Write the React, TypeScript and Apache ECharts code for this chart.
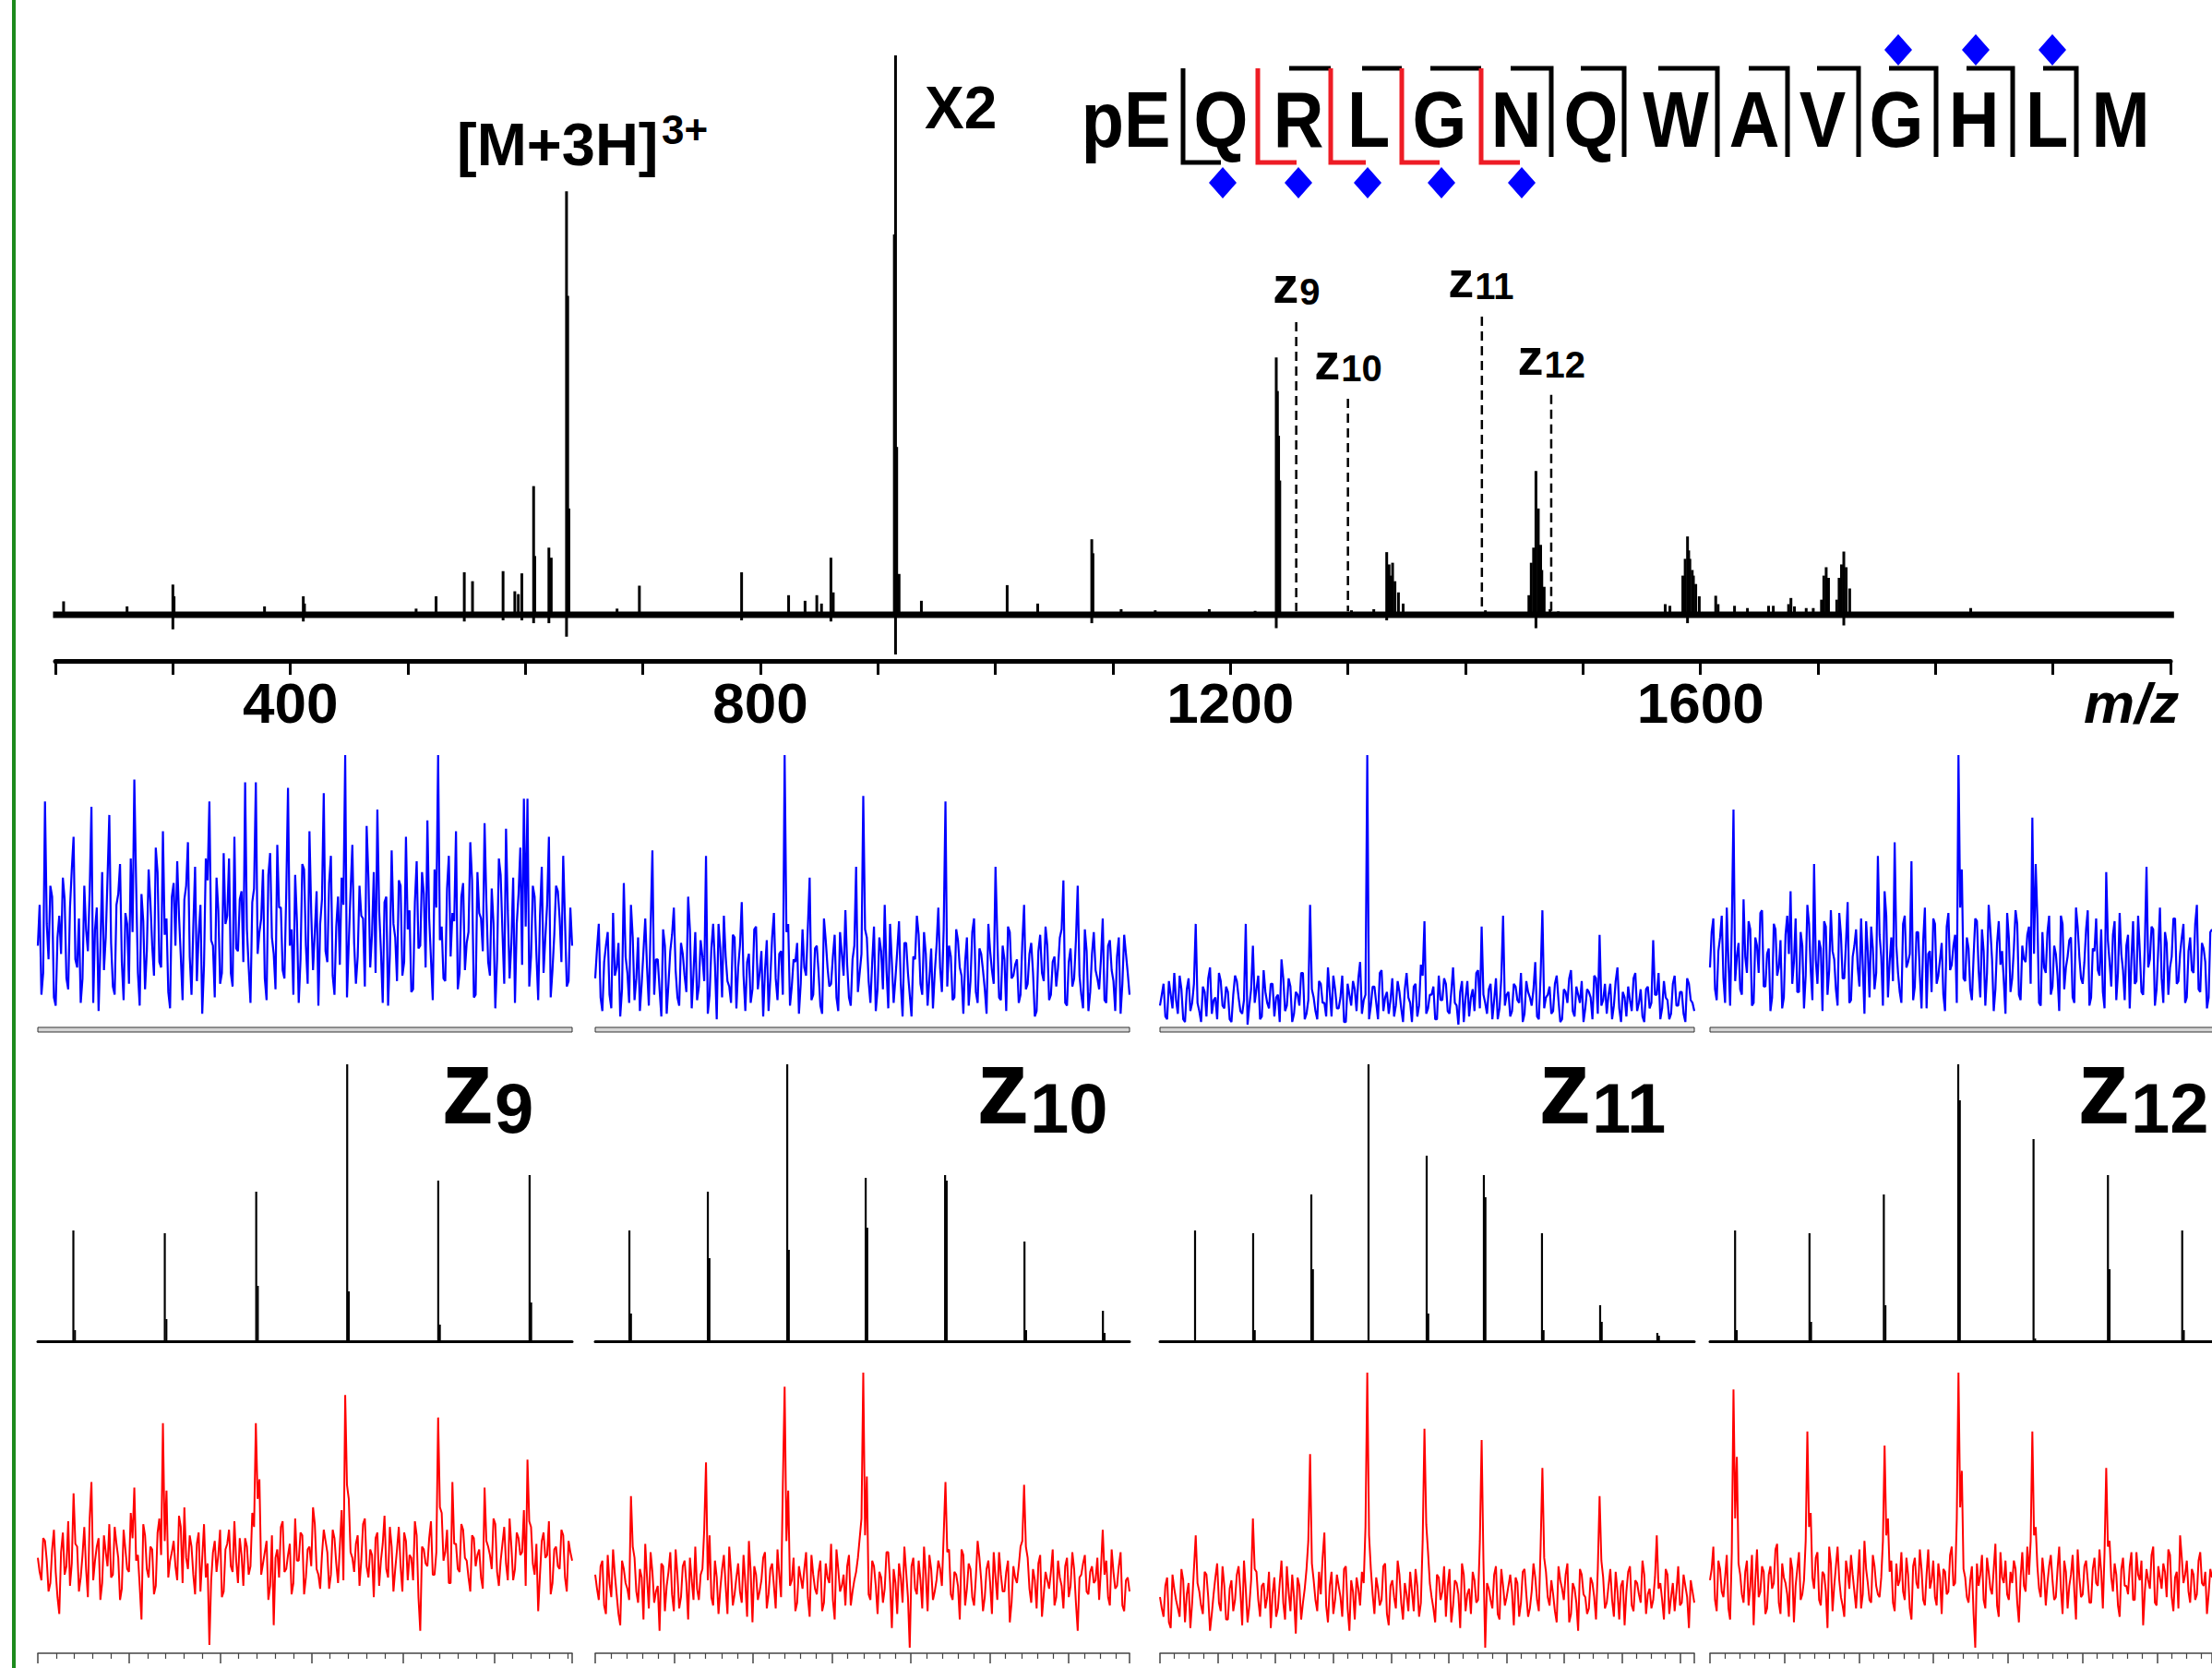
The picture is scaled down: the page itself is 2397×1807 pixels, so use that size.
import React, { useEffect, useRef } from "react";
import * as echarts from "echarts";

// ================= DATA =================
// Top MS/MS spectrum: stick peaks (m/z, relative intensity, dip below baseline)
const topMz = [207, 261, 300, 301, 378, 411, 412, 507, 524, 548, 555, 581, 591, 594, 597, 607, 608, 620, 622, 635, 636, 637, 678, 697, 784, 824, 838, 848, 852, 860, 862, 914, 915, 916, 918, 937, 1010, 1036, 1082, 1083, 1107, 1136, 1182, 1221, 1239, 1240, 1241, 1242, 1303, 1322, 1333, 1334, 1335, 1336, 1338, 1340, 1343, 1347, 1417, 1431, 1454, 1456, 1458, 1460, 1462, 1464, 1465, 1467, 1472, 1479, 1570, 1574, 1585, 1587, 1589, 1590, 1591, 1593, 1594, 1596, 1599, 1613, 1615, 1629, 1640, 1658, 1662, 1675, 1677, 1680, 1690, 1696, 1703, 1705, 1707, 1709, 1716, 1718, 1720, 1722, 1724, 1727, 1830];
const topInt = [2.4, 1.5, 5.4, 3.3, 1.5, 3.3, 2, 1.1, 3.3, 7.6, 6, 7.8, 4.2, 3.7, 7.4, 23, 10.5, 12, 10.2, 75.7, 57, 19, 1.1, 5.2, 7.6, 3.5, 2.5, 3.5, 2, 10.2, 4, 68, 100, 30, 7.3, 2.5, 5.3, 2, 13.5, 11, 1, 0.8, 1, 0.7, 46, 40, 32, 24, 0.8, 1, 11.2, 8, 9, 7, 9.3, 6, 4, 2, 0.8, 0.5, 3.5, 9.3, 12, 25.7, 19, 12.5, 8, 5, 1, 0.6, 1.9, 1.6, 7, 10, 14, 11.5, 10, 8, 7, 5.5, 3.3, 3.4, 1.9, 1.6, 1.2, 1.6, 1.6, 1.9, 3, 1.5, 1.2, 1.2, 2.7, 7, 8.5, 6.6, 2.7, 6.6, 9, 11.3, 8.5, 4.7, 1.2];
const topDip = [0, 0, -2.6, 0, 0, -1.2, 0, 0, 0, -1.2, 0, -1, 0, 0, -1, -1.5, 0, -1.5, 0, -3.9, 0, 0, 0, 0, -1, 0, 0, 0, 0, -1.2, 0, 0, -7.1, 0, 0, 0, 0, 0, -1.5, 0, 0, 0, 0, 0, -2.4, 0, 0, 0, 0, 0, -1, 0, 0, 0, 0, 0, 0, 0, 0, 0, 0, 0, 0, -2.4, 0, 0, 0, 0, 0, 0, 0, 0, 0, 0, -1.5, 0, 0, 0, 0, 0, 0, 0, 0, 0, 0, 0, 0, 0, 0, 0, 0, 0, 0, 0, 0, 0, 0, 0, 0, -1.9, 0, 0, 0];
const topBaseline = [198, 2003];
const topTicks = [400, 800, 1200, 1600];

// z-ion markers in the top spectrum
const zIonMz = [1256, 1300, 1414, 1473];
const zIonTop = [52.3, 38.6, 53.3, 39.3];
const zIonLabel = ["9", "10", "11", "12"];

// Peptide sequence and fragment map
const residues = ["pE", "Q", "R", "L", "G", "N", "Q", "W", "A", "V", "G", "H", "L", "M"];
const cleavageType = ["c", "c", "cz", "cz", "cz", "z", "z", "z", "z", "z", "z", "z", "z"];
const cIonRed = [false, true, true, true, true];
const zDiamond = [false, false, false, false, false, false, false, false, false, false, true, true, true];

// Isotope panels (x in isotope-spacing units)
const panelLabels = ["9", "10", "11", "12"];
const panelSpan = [5.85, 6.77, 9.25, 6.74];
const z9Pos = [0.389, 1.39, 2.391, 3.387, 4.384, 5.384];
const z9Int = [40, 39, 54, 100, 58, 60];
const z9Sh = [4, 8, 20, 18, 6, 14];
const z10Pos = [0.433, 1.427, 2.433, 3.427, 4.433, 5.439, 6.433];
const z10Int = [40, 54, 100, 59, 60, 36, 11];
const z10Sh = [10, 30, 33, 41, 58, 4, 3];
const z11Pos = [0.607, 1.613, 2.62, 3.61, 4.617, 5.607, 6.613, 7.62, 8.61];
const z11Int = [40, 39, 53, 100, 67, 60, 39, 13, 3];
const z11Sh = [0, 4, 26, 0, 10, 52, 4, 7, 2];
const z12Pos = [0.337, 1.336, 2.334, 3.333, 4.344, 5.343, 6.34];
const z12Int = [40, 39, 53, 100, 73, 60, 40];
const z12Sh = [4, 7, 13, 87, 1, 26, 4];

// Blue traces (conventional spectra): even samples (a) and odd samples (b)
const blueZ9 = [30, 12, 83, 25, 48, 8, 41, 55, 18, 44, 70, 22, 9, 52, 28, 81, 36, 6, 57, 33, 78, 15, 45, 60, 10, 38, 62, 91, 20, 49, 14, 58, 30, 66, 24, 72, 40, 7, 53, 61, 26, 47, 68, 12, 59, 34, 5, 62, 83, 30, 55, 16, 64, 41, 20, 70, 28, 50, 90, 22, 46, 90, 35, 58, 10, 64, 27, 67, 44, 18, 88, 36, 56, 9, 60, 30, 72, 21, 50, 38, 86, 24, 63, 12, 48, 55, 100, 31, 67, 16, 52, 40, 74, 22, 57, 80, 28, 46, 8, 65, 33, 54, 19, 70, 43, 14, 61, 30, 49, 76, 25, 58, 100, 37, 17, 63, 42, 72, 20, 53, 31, 68, 11, 57, 40, 75, 24, 51, 7, 62, 35, 73, 18, 55, 38, 66, 84, 84, 26, 48, 10, 59, 33, 70, 21, 52, 40, 63, 15, 44];
const blueZ9b = [45, 20, 38, 52, 11, 33, 27, 47, 14, 58, 25, 40, 18, 36, 50, 9, 44, 29, 21, 55, 31, 12, 49, 24, 42, 16, 35, 53, 8, 39, 28, 46, 19, 57, 22, 34, 13, 48, 30, 41, 10, 52, 26, 37, 17, 45, 23, 54, 32, 11, 43, 20, 38, 62, 15, 29, 47, 24, 36, 9, 51, 27, 40, 18, 56, 33, 14, 44, 21, 49, 30, 12, 39, 25, 58, 16, 42, 35, 8, 47, 28, 53, 19, 37, 23, 45, 11, 50, 31, 26, 41, 15, 55, 34, 20, 43, 9, 48, 27, 38, 17, 52, 24, 36, 13, 46, 29, 57, 22, 40, 10, 44, 32, 18, 51, 26, 39, 14, 48, 21, 35, 54, 12, 42, 28, 46, 19, 38, 25, 56, 16, 43, 31, 9, 49, 23, 37, 15, 52, 27, 41, 20, 45, 11, 34, 50, 24, 39, 17, 30];
const blueZ10 = [18, 38, 6, 30, 12, 42, 22, 4, 53, 20, 45, 10, 33, 16, 40, 8, 65, 25, 14, 36, 5, 28, 44, 11, 31, 19, 48, 7, 35, 15, 26, 63, 12, 38, 3, 29, 41, 17, 9, 33, 22, 46, 6, 27, 14, 37, 20, 4, 32, 18, 42, 10, 28, 100, 38, 15, 24, 5, 36, 19, 55, 12, 30, 8, 40, 22, 16, 34, 6, 27, 43, 11, 25, 59, 20, 85, 33, 9, 37, 14, 28, 45, 7, 24, 18, 39, 4, 31, 12, 26, 41, 16, 35, 8, 29, 20, 44, 13, 83, 30, 10, 36, 22, 5, 33, 17, 40, 9, 27, 14, 38, 21, 59, 11, 30, 6, 35, 19, 25, 12, 45, 16, 31, 4, 28, 20, 37, 10, 24, 15, 33, 54, 8, 29, 18, 52, 12, 36, 6, 27, 21, 14, 40, 9, 32, 17, 26, 5, 34, 20];
const blueZ10b = [29, 11, 24, 35, 7, 19, 31, 14, 26, 9, 33, 18, 6, 28, 22, 37, 12, 25, 4, 30, 16, 34, 21, 8, 27, 13, 36, 20, 10, 32, 17, 5, 29, 23, 38, 11, 26, 15, 34, 7, 30, 19, 24, 9, 36, 14, 28, 21, 6, 33, 18, 27, 12, 35, 8, 25, 31, 16, 22, 37, 10, 29, 20, 5, 32, 15, 26, 11, 35, 19, 23, 8, 30, 13, 27, 36, 17, 24, 6, 33, 14, 21, 38, 9, 28, 16, 31, 20, 4, 25, 34, 12, 27, 18, 7, 30, 22, 36, 15, 26, 11, 32, 19, 24, 8, 35, 13, 29, 21, 5, 28, 16, 33, 10, 25, 37, 18, 23, 9, 31, 14, 27, 20, 6, 34, 17, 30, 12, 26, 22, 36, 9, 24, 15, 32, 19, 7, 28, 13, 35, 18, 25, 10, 30, 21, 6, 33, 16, 27, 12];
const blueZ11 = [8, 16, 3, 12, 20, 5, 14, 2, 18, 9, 38, 6, 15, 4, 22, 10, 3, 17, 7, 13, 2, 19, 11, 5, 38, 8, 30, 14, 3, 21, 9, 16, 4, 12, 25, 6, 18, 2, 13, 8, 20, 5, 45, 11, 3, 16, 9, 22, 4, 14, 7, 19, 2, 12, 17, 6, 24, 10, 100, 8, 15, 3, 21, 11, 5, 18, 8, 13, 2, 20, 9, 15, 4, 23, 39, 7, 12, 3, 19, 10, 16, 5, 22, 8, 13, 2, 17, 11, 6, 21, 37, 9, 14, 3, 18, 7, 41, 12, 4, 16, 10, 20, 5, 13, 8, 24, 3, 43, 11, 15, 6, 19, 2, 14, 9, 21, 4, 12, 17, 7, 13, 3, 18, 34, 10, 5, 16, 8, 22, 2, 11, 15, 6, 20, 9, 4, 14, 7, 32, 12, 3, 17, 10, 5, 19, 8, 13, 2, 16, 9];
const blueZ11b = [12, 4, 17, 7, 10, 19, 3, 14, 6, 16, 9, 2, 13, 18, 5, 11, 20, 8, 15, 3, 12, 17, 6, 10, 1, 14, 9, 19, 4, 13, 7, 16, 11, 2, 18, 8, 15, 5, 12, 20, 3, 10, 14, 6, 17, 9, 4, 13, 19, 7, 11, 2, 16, 8, 14, 18, 5, 12, 3, 15, 9, 20, 6, 13, 10, 4, 17, 7, 14, 11, 2, 16, 8, 19, 5, 12, 15, 3, 10, 18, 6, 13, 9, 1, 17, 11, 4, 14, 20, 7, 12, 5, 16, 10, 3, 18, 8, 13, 6, 15, 9, 2, 17, 11, 14, 4, 19, 7, 12, 5, 16, 10, 3, 13, 18, 6, 15, 9, 2, 14, 11, 19, 5, 8, 16, 12, 3, 17, 7, 13, 4, 10, 18, 6, 14, 2, 15, 9, 12, 20, 7, 11, 3, 16, 8, 13, 5, 18, 10, 6];
const blueZ12 = [22, 40, 10, 33, 18, 44, 8, 80, 26, 14, 47, 20, 36, 9, 30, 42, 15, 27, 6, 38, 19, 32, 11, 41, 50, 24, 13, 35, 7, 45, 21, 60, 16, 29, 39, 12, 43, 25, 8, 34, 18, 46, 10, 30, 22, 40, 5, 28, 37, 14, 63, 26, 50, 11, 33, 68, 20, 9, 41, 24, 61, 15, 35, 7, 44, 27, 13, 38, 19, 31, 6, 42, 23, 34, 100, 58, 17, 29, 10, 40, 21, 36, 8, 45, 25, 14, 39, 28, 5, 33, 18, 43, 12, 30, 24, 37, 77, 60, 9, 35, 20, 41, 15, 27, 6, 38, 22, 32, 11, 44, 26, 16, 36, 8, 29, 40, 19, 13, 57, 24, 34, 10, 42, 21, 30, 7, 39, 17, 28, 12, 59, 25, 36, 14, 44, 9, 31, 22, 40, 16, 27, 38, 11, 33, 20, 45, 13, 29, 7, 35];
const blueZ12b = [35, 14, 28, 41, 9, 24, 37, 17, 31, 12, 26, 39, 8, 33, 20, 43, 15, 29, 11, 36, 22, 7, 34, 27, 16, 40, 13, 30, 19, 38, 10, 25, 32, 6, 37, 21, 28, 14, 42, 18, 31, 9, 26, 36, 15, 23, 39, 11, 29, 20, 34, 8, 41, 24, 17, 30, 13, 38, 22, 27, 10, 35, 19, 32, 7, 28, 40, 16, 25, 12, 37, 21, 30, 9, 44, 18, 33, 14, 26, 39, 11, 28, 20, 36, 6, 31, 23, 17, 42, 13, 29, 38, 10, 25, 34, 16, 27, 40, 8, 22, 35, 12, 30, 19, 41, 14, 26, 33, 9, 37, 18, 24, 43, 11, 28, 21, 36, 7, 32, 15, 39, 20, 27, 10, 34, 25, 16, 41, 13, 30, 22, 37, 8, 29, 18, 35, 12, 26, 40, 17, 33, 9, 28, 21, 38, 14, 31, 24, 11, 36];

// Red traces (enhanced spectra): even samples (a) and odd samples (b)
const redZ9 = [34, 26, 40, 22, 37, 29, 14, 43, 31, 24, 57, 38, 27, 45, 20, 61, 33, 41, 25, 36, 46, 28, 39, 19, 44, 30, 50, 59, 35, 12, 42, 27, 37, 24, 48, 82, 58, 33, 40, 26, 45, 52, 30, 38, 21, 43, 34, 27, 3, 36, 29, 44, 22, 39, 31, 47, 25, 35, 41, 28, 50, 82, 62, 32, 40, 24, 10, 37, 45, 29, 35, 21, 48, 33, 42, 27, 38, 52, 30, 23, 44, 36, 28, 41, 25, 51, 92, 55, 34, 39, 24, 46, 31, 37, 20, 43, 33, 49, 27, 38, 30, 45, 22, 40, 35, 26, 42, 8, 37, 31, 47, 28, 84, 50, 36, 25, 61, 39, 29, 44, 33, 22, 41, 35, 27, 59, 38, 30, 46, 24, 39, 32, 48, 26, 43, 35, 51, 69, 45, 28, 15, 40, 34, 47, 25, 38, 30, 42, 22, 36];
const redZ9b = [29, 41, 33, 25, 44, 20, 36, 28, 47, 32, 39, 22, 35, 30, 48, 26, 38, 19, 42, 31, 27, 45, 34, 23, 37, 29, 41, 33, 24, 46, 30, 38, 21, 43, 35, 40, 27, 36, 31, 49, 25, 34, 42, 28, 39, 22, 46, 32, 26, 40, 35, 20, 37, 44, 29, 33, 41, 24, 38, 31, 45, 55, 28, 36, 19, 42, 34, 27, 47, 30, 39, 25, 33, 43, 21, 37, 31, 46, 28, 35, 40, 23, 44, 32, 38, 26, 60, 36, 29, 42, 33, 48, 27, 35, 41, 24, 39, 30, 45, 22, 37, 31, 43, 26, 34, 47, 20, 38, 32, 41, 28, 36, 52, 33, 44, 25, 39, 30, 46, 34, 27, 42, 31, 37, 23, 40, 35, 48, 29, 33, 45, 26, 38, 30, 41, 36, 24, 47, 32, 39, 28, 43, 35, 21, 37, 31, 44, 27, 40, 33];
const redZ10 = [28, 19, 33, 14, 25, 37, 21, 10, 30, 23, 56, 34, 18, 27, 39, 16, 29, 22, 8, 31, 24, 36, 15, 28, 20, 33, 12, 26, 38, 19, 30, 68, 42, 17, 27, 23, 35, 14, 29, 21, 32, 18, 25, 40, 11, 28, 22, 34, 16, 30, 24, 37, 20, 95, 58, 26, 15, 31, 23, 36, 13, 28, 21, 33, 18, 27, 39, 12, 30, 24, 17, 35, 22, 29, 41, 100, 63, 19, 31, 14, 27, 23, 36, 9, 25, 32, 18, 29, 2, 34, 21, 26, 38, 15, 30, 22, 33, 24, 61, 37, 19, 28, 12, 35, 23, 30, 17, 40, 26, 20, 33, 14, 27, 36, 22, 29, 11, 31, 25, 38, 60, 34, 18, 26, 32, 13, 29, 23, 37, 20, 27, 16, 34, 24, 30, 8, 28, 35, 21, 31, 26, 19, 44, 33, 17, 29, 24, 36, 15, 27];
const redZ10b = [23, 31, 17, 35, 20, 28, 14, 33, 25, 19, 38, 22, 30, 12, 27, 36, 18, 24, 32, 15, 29, 21, 37, 16, 31, 25, 34, 19, 23, 28, 44, 26, 20, 33, 14, 30, 24, 38, 17, 27, 22, 35, 13, 29, 31, 19, 26, 36, 21, 32, 16, 28, 60, 40, 24, 34, 18, 27, 30, 20, 35, 23, 29, 15, 32, 25, 19, 37, 22, 28, 31, 17, 26, 34, 48, 42, 21, 33, 24, 29, 18, 36, 25, 30, 14, 27, 38, 20, 31, 23, 33, 16, 28, 35, 19, 26, 30, 42, 36, 21, 29, 24, 37, 17, 32, 20, 27, 34, 15, 30, 25, 36, 19, 28, 22, 33, 18, 27, 31, 40, 38, 23, 30, 16, 35, 21, 26, 29, 17, 33, 24, 31, 20, 36, 18, 27, 32, 22, 29, 25, 34, 30, 28, 20, 37, 23, 31, 17, 26, 22];
const redZ11 = [20, 13, 27, 9, 23, 16, 30, 11, 25, 18, 42, 22, 14, 28, 8, 21, 32, 15, 24, 12, 26, 19, 31, 10, 23, 17, 48, 29, 13, 25, 20, 9, 27, 16, 33, 12, 22, 28, 7, 24, 18, 30, 71, 26, 15, 21, 43, 11, 29, 19, 24, 13, 31, 8, 22, 27, 17, 25, 100, 30, 14, 23, 19, 32, 10, 26, 16, 28, 12, 21, 29, 15, 24, 18, 80, 36, 20, 11, 27, 22, 13, 30, 17, 25, 9, 28, 21, 14, 26, 19, 76, 2, 23, 16, 31, 12, 24, 20, 28, 10, 25, 18, 30, 13, 22, 27, 15, 66, 29, 17, 21, 11, 26, 19, 32, 14, 23, 8, 28, 20, 16, 25, 12, 56, 27, 18, 30, 13, 22, 24, 10, 29, 17, 26, 21, 33, 14, 23, 19, 42, 25, 12, 28, 20, 15, 31, 18, 24, 9, 22];
const redZ11b = [16, 24, 11, 28, 19, 13, 26, 21, 9, 30, 25, 17, 29, 20, 14, 27, 18, 31, 12, 23, 15, 28, 22, 33, 11, 26, 30, 19, 24, 16, 29, 21, 13, 25, 18, 31, 15, 20, 27, 12, 23, 40, 32, 19, 29, 34, 17, 24, 14, 28, 20, 30, 16, 26, 12, 23, 29, 45, 42, 21, 27, 17, 31, 14, 24, 20, 33, 18, 25, 15, 22, 30, 13, 40, 46, 25, 16, 28, 19, 31, 24, 11, 26, 21, 32, 15, 23, 29, 18, 40, 33, 25, 19, 28, 14, 30, 17, 24, 22, 27, 13, 29, 21, 16, 32, 19, 38, 34, 20, 26, 15, 31, 23, 28, 11, 25, 18, 30, 21, 14, 27, 20, 30, 33, 16, 24, 19, 29, 12, 26, 22, 31, 15, 25, 18, 28, 21, 16, 27, 23, 19, 30, 14, 25, 22, 17, 28, 20, 26, 18];
const redZ12 = [26, 38, 15, 30, 20, 35, 12, 94, 70, 28, 18, 33, 24, 10, 37, 22, 29, 16, 31, 25, 39, 14, 27, 21, 34, 11, 30, 19, 26, 79, 50, 23, 36, 17, 28, 9, 32, 24, 38, 20, 13, 29, 35, 22, 26, 16, 40, 25, 18, 31, 21, 27, 74, 48, 33, 15, 24, 36, 19, 28, 12, 34, 23, 30, 17, 37, 26, 20, 32, 14, 29, 22, 38, 25, 100, 65, 27, 18, 31, 2, 24, 35, 16, 29, 21, 39, 13, 27, 33, 19, 25, 30, 11, 36, 22, 28, 79, 45, 23, 34, 17, 31, 26, 20, 38, 14, 29, 24, 35, 12, 27, 21, 33, 18, 30, 25, 37, 16, 66, 40, 22, 28, 13, 34, 24, 31, 19, 36, 26, 10, 30, 23, 38, 17, 27, 32, 20, 35, 15, 29, 42, 25, 33, 18, 28, 21, 36, 24, 14, 30];
const redZ12b = [30, 19, 33, 22, 27, 16, 36, 48, 32, 21, 29, 17, 35, 26, 20, 31, 14, 28, 23, 37, 18, 32, 25, 13, 30, 24, 36, 21, 40, 45, 27, 34, 19, 29, 22, 38, 15, 31, 26, 17, 33, 23, 28, 16, 37, 21, 30, 19, 35, 24, 20, 40, 42, 29, 18, 32, 26, 22, 34, 16, 31, 25, 37, 19, 28, 23, 33, 17, 27, 30, 21, 35, 24, 48, 52, 30, 20, 26, 14, 32, 28, 19, 34, 23, 30, 17, 36, 25, 21, 29, 33, 18, 27, 24, 38, 40, 42, 31, 20, 28, 25, 35, 19, 30, 23, 33, 16, 28, 22, 37, 20, 31, 26, 18, 34, 24, 29, 36, 38, 27, 32, 17, 30, 24, 21, 36, 19, 28, 33, 22, 26, 35, 18, 31, 23, 29, 37, 20, 27, 16, 34, 28, 22, 30, 19, 33, 25, 29, 21, 27];

// ================= LAYOUT / STYLE =================
const W = 2397;
const H = 1807;
const FONT = '"Liberation Sans", Arial, Helvetica, sans-serif';
const TOP_GRID = { left: 60, top: 60, width: 2292, height: 656 };
const COL_LEFT = [41, 645, 1257, 1853];
const COL_W = [579, 579, 579, 580];
const BLUE_ROW = { top: 818, height: 295 };
const BLACK_ROW = { top: 1153, height: 300 };
const RED_ROW = { top: 1487, height: 304 };
const MINOR_SPLIT = [5, 5, 4, 5];

const SEQ_X = [1220, 1323, 1407, 1483, 1560, 1643, 1724, 1816, 1901, 1975, 2055, 2139, 2218, 2298];
const CUT_X = [1282, 1363, 1442, 1519, 1605, 1681, 1760, 1861, 1937, 2014, 2098, 2181, 2250];
const Z_BAR_START = [0, 0, 1397, 1476, 1550, 1637, 1713, 1797, 1895, 1969, 2047, 2131, 2214];
const C_FOOT_END = [1323, 1405, 1480, 1560, 1647];
const BIG_Z_LEFT = [478, 1058, 1667, 2251];

const RED = "#ee1c25";
const BLUE = "#0000ff";

function diamond(cx: number, cy: number) {
  return {
    type: "polygon",
    shape: { points: [[cx, cy - 17], [cx + 15, cy], [cx, cy + 17], [cx - 15, cy]] },
    style: { fill: BLUE },
    z: 10,
  };
}

function buildGraphics() {
  const g: any[] = [];
  g.push({ type: "line", shape: { x1: 15, y1: 0, x2: 15, y2: H }, style: { stroke: "#1c8a1c", lineWidth: 4 } });
  g.push({ type: "text", x: 495, y: 156, style: { text: "[M+3H]", font: `bold 65px ${FONT}`, fill: "#000", textAlign: "left", textVerticalAlign: "middle" } });
  g.push({ type: "text", x: 717, y: 140, style: { text: "3+", font: `bold 44px ${FONT}`, fill: "#000", textAlign: "left", textVerticalAlign: "middle" } });
  g.push({ type: "text", x: 1002, y: 117, style: { text: "X2", font: `bold 64px ${FONT}`, fill: "#000", textAlign: "left", textVerticalAlign: "middle" } });
  g.push({ type: "text", x: 2258, y: 761, style: { text: "m/z", font: `italic bold 62px ${FONT}`, fill: "#000", textAlign: "left", textVerticalAlign: "middle" } });

  residues.forEach((r, i) => {
    g.push({ type: "text", x: SEQ_X[i], y: 129, scaleX: 0.88, style: { text: r, font: `bold 86px ${FONT}`, fill: "#000", textAlign: "center", textVerticalAlign: "middle" } });
  });
  let ci = 0;
  cleavageType.forEach((t, i) => {
    const x = CUT_X[i];
    if (t === "z" || t === "cz") {
      const pts = t === "z" ? [[Z_BAR_START[i], 74], [x, 74], [x, 170]] : [[Z_BAR_START[i], 74], [x, 74]];
      g.push({ type: "polyline", shape: { points: pts }, style: { stroke: "#000", lineWidth: 5, fill: null, lineJoin: "miter" } });
      if (zDiamond[i]) g.push(diamond(Z_BAR_START[i] + 10, 54));
    }
    if (t === "c" || t === "cz") {
      const col = cIonRed[ci] ? RED : "#000";
      g.push({ type: "polyline", shape: { points: [[x, 74], [x, 176], [C_FOOT_END[ci], 176]] }, style: { stroke: col, lineWidth: 5, fill: null, lineJoin: "miter" } });
      g.push(diamond(C_FOOT_END[ci] + 2, 198));
      ci++;
    }
  });

  COL_LEFT.forEach((l, c) => {
    g.push({ type: "rect", shape: { x: l, y: BLUE_ROW.top + BLUE_ROW.height, width: COL_W[c], height: 5 }, style: { fill: "#d6d6d6", stroke: "#333", lineWidth: 1 } });
  });
  BIG_Z_LEFT.forEach((l, c) => {
    g.push({ type: "text", x: l, y: 1177, style: { text: "z", font: `bold 115px ${FONT}`, fill: "#000", textAlign: "left", textVerticalAlign: "middle" } });
    g.push({ type: "text", x: l + 58, y: 1200, style: { text: panelLabels[c], font: `bold 76px ${FONT}`, fill: "#000", textAlign: "left", textVerticalAlign: "middle" } });
  });
  return g;
}

function stickSeries(xi: number, data: number[][], width: number, shoulder: boolean) {
  return {
    type: "custom",
    xAxisIndex: xi,
    yAxisIndex: xi,
    silent: true,
    data,
    encode: { x: 0, y: 1 },
    renderItem: (params: any, api: any) => {
      const x = api.value(0);
      const top = api.coord([x, api.value(1)]);
      const bot = api.coord([x, shoulder ? 0 : api.value(2)]);
      const children: any[] = [
        { type: "line", shape: { x1: bot[0], y1: bot[1], x2: top[0], y2: top[1] }, style: { stroke: "#000", lineWidth: width } },
      ];
      if (shoulder && api.value(2) > 0) {
        const s = api.coord([x, api.value(2)]);
        children.push({ type: "line", shape: { x1: bot[0] + 1.8, y1: bot[1], x2: s[0] + 1.8, y2: s[1] }, style: { stroke: "#000", lineWidth: 2 } });
      }
      return { type: "group", children };
    },
  };
}

// interleave the two hand-read sample lists (a0, b0, a1, b1, ...)
function noiseSeries(xi: number, a: number[], b: number[], span: number, color: string, width: number) {
  const vals: number[] = [];
  a.forEach((v, i) => {
    vals.push(v);
    vals.push(b[i]);
  });
  return {
    type: "line",
    xAxisIndex: xi,
    yAxisIndex: xi,
    data: vals.map((v, i) => [(i * span) / (vals.length - 1), v]),
    symbol: "none",
    silent: true,
    lineStyle: { color, width, join: "bevel" },
  };
}

function buildOption() {
  const grids: any[] = [{ ...TOP_GRID }];
  const xAxes: any[] = [
    {
      gridIndex: 0,
      type: "value",
      min: 200,
      max: 2000,
      interval: 100,
      axisLine: { onZero: false, lineStyle: { color: "#000", width: 5 } },
      axisTick: { show: true, length: 15, lineStyle: { color: "#000", width: 3 } },
      axisLabel: {
        margin: 14,
        color: "#000",
        fontSize: 62,
        fontWeight: "bold",
        fontFamily: FONT,
        formatter: (v: number) => (topTicks.includes(v) ? String(v) : ""),
      },
      splitLine: { show: false },
    },
  ];
  const yAxes: any[] = [{ gridIndex: 0, type: "value", min: -8.25, max: 100, show: false }];
  const series: any[] = [];

  series.push({
    type: "line",
    xAxisIndex: 0,
    yAxisIndex: 0,
    data: topBaseline.map((m) => [m, 0]),
    symbol: "none",
    clip: false,
    silent: true,
    lineStyle: { color: "#000", width: 7 },
  });
  series.push(stickSeries(0, topMz.map((m, i) => [m, topInt[i], topDip[i]]), 3, false));
  series.push({
    type: "custom",
    xAxisIndex: 0,
    yAxisIndex: 0,
    silent: true,
    data: zIonMz.map((m, i) => [m, zIonTop[i]]),
    encode: { x: 0, y: 1 },
    renderItem: (params: any, api: any) => {
      const x = api.value(0);
      const top = api.coord([x, api.value(1)]);
      const bot = api.coord([x, 0.6]);
      const lab = zIonLabel[params.dataIndex];
      const total = 29 + 22 * lab.length;
      const left = top[0] - total / 2;
      const baseZ = top[1] - 22;
      return {
        type: "group",
        children: [
          { type: "line", shape: { x1: top[0], y1: top[1], x2: bot[0], y2: bot[1] }, style: { stroke: "#000", lineWidth: 2.5, lineDash: [10, 6] } },
          { type: "text", x: left, y: baseZ - 19, style: { text: "z", font: `bold 56px ${FONT}`, fill: "#000", textAlign: "left", textVerticalAlign: "middle" } },
          { type: "text", x: left + 29, y: baseZ + 3 - 14, style: { text: lab, font: `bold 40px ${FONT}`, fill: "#000", textAlign: "left", textVerticalAlign: "middle" } },
        ],
      };
    },
  });

  const blues = [blueZ9, blueZ10, blueZ11, blueZ12];
  const blues2 = [blueZ9b, blueZ10b, blueZ11b, blueZ12b];
  const reds = [redZ9, redZ10, redZ11, redZ12];
  const reds2 = [redZ9b, redZ10b, redZ11b, redZ12b];
  const pos = [z9Pos, z10Pos, z11Pos, z12Pos];
  const ints = [z9Int, z10Int, z11Int, z12Int];
  const shs = [z9Sh, z10Sh, z11Sh, z12Sh];

  for (let c = 0; c < 4; c++) grids.push({ left: COL_LEFT[c], width: COL_W[c], top: BLUE_ROW.top, height: BLUE_ROW.height });
  for (let c = 0; c < 4; c++) grids.push({ left: COL_LEFT[c], width: COL_W[c], top: BLACK_ROW.top, height: BLACK_ROW.height });
  for (let c = 0; c < 4; c++) grids.push({ left: COL_LEFT[c], width: COL_W[c], top: RED_ROW.top, height: RED_ROW.height });

  for (let c = 0; c < 4; c++) {
    xAxes.push({ gridIndex: 1 + c, type: "value", min: 0, max: panelSpan[c], show: false });
    yAxes.push({ gridIndex: 1 + c, type: "value", min: 0, max: 100, show: false });
  }
  for (let c = 0; c < 4; c++) {
    xAxes.push({
      gridIndex: 5 + c,
      type: "value",
      min: 0,
      max: panelSpan[c],
      axisLine: { onZero: false, lineStyle: { color: "#000", width: 3 } },
      axisTick: { show: false },
      axisLabel: { show: false },
      splitLine: { show: false },
    });
    yAxes.push({ gridIndex: 5 + c, type: "value", min: 0, max: 100, show: false });
  }
  for (let c = 0; c < 4; c++) {
    xAxes.push({
      gridIndex: 9 + c,
      type: "value",
      min: 0,
      max: panelSpan[c],
      interval: 1,
      axisLine: { onZero: false, lineStyle: { color: "#444", width: 1.5 } },
      axisTick: { show: true, length: 11, lineStyle: { color: "#444", width: 1.5 } },
      minorTick: { show: true, splitNumber: MINOR_SPLIT[c], length: 6, lineStyle: { color: "#444", width: 1.2 } },
      axisLabel: { show: false },
      splitLine: { show: false },
    });
    yAxes.push({ gridIndex: 9 + c, type: "value", min: 0, max: 100, show: false });
  }

  for (let c = 0; c < 4; c++) {
    series.push(noiseSeries(1 + c, blues[c], blues2[c], panelSpan[c], BLUE, 2.2));
    series.push(stickSeries(5 + c, pos[c].map((p, i) => [p, ints[c][i], shs[c][i]]), 2.2, true));
    series.push(noiseSeries(9 + c, reds[c], reds2[c], panelSpan[c], "#ff0000", 2.0));
  }

  return {
    animation: false,
    backgroundColor: "#ffffff",
    grid: grids,
    xAxis: xAxes,
    yAxis: yAxes,
    series,
    graphic: { elements: buildGraphics() },
  };
}

export default function App() {
  const ref = useRef<HTMLDivElement>(null);
  useEffect(() => {
    document.body.style.margin = "0";
    document.body.style.overflow = "hidden";
    const chart = echarts.init(ref.current as HTMLDivElement, undefined, { renderer: "svg", width: W, height: H });
    chart.setOption(buildOption() as any);
    return () => chart.dispose();
  }, []);
  return <div ref={ref} style={{ width: W, height: H, background: "#fff" }} />;
}
